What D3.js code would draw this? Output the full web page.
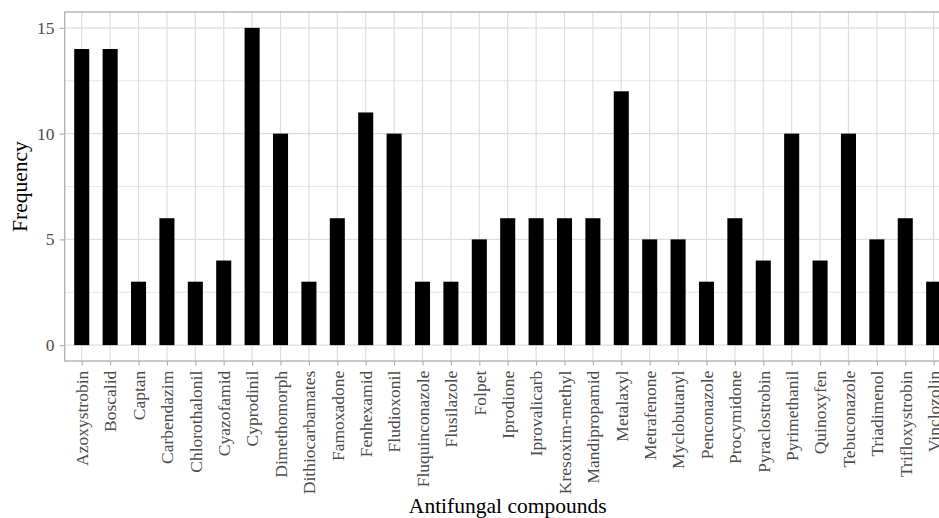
<!DOCTYPE html>
<html>
<head>
<meta charset="utf-8">
<script src="https://cdn.jsdelivr.net/npm/d3@7"></script>
<style>
  html, body { margin: 0; padding: 0; background: #ffffff; }
  svg { display: block; }
</style>
</head>
<body>
<svg id="chart" width="939" height="518"></svg>
<script>
// Antifungal compounds and how often each was detected
const compounds = [
  "Azoxystrobin", "Boscalid", "Captan", "Carbendazim", "Chlorothalonil",
  "Cyazofamid", "Cyprodinil", "Dimethomorph", "Dithiocarbamates", "Famoxadone",
  "Fenhexamid", "Fludioxonil", "Fluquinconazole", "Flusilazole", "Folpet",
  "Iprodione", "Iprovalicarb", "Kresoxim-methyl", "Mandipropamid", "Metalaxyl",
  "Metrafenone", "Myclobutanyl", "Penconazole", "Procymidone", "Pyraclostrobin",
  "Pyrimethanil", "Quinoxyfen", "Tebuconazole", "Triadimenol", "Trifloxystrobin",
  "Vinclozolin"
];
const frequency = [
  14, 14, 3, 6, 3,
  4, 15, 10, 3, 6,
  11, 10, 3, 3, 5,
  6, 6, 6, 6, 12,
  5, 5, 3, 6, 4,
  10, 4, 10, 5, 6,
  3
];
const yTicks = [0, 5, 10, 15];
const yMinorTicks = [2.5, 7.5, 12.5];
const xTitle = "Antifungal compounds";
const yTitle = "Frequency";

const data = compounds.map((c, i) => ({ name: c, value: frequency[i] }));

const panel = { left: 64.7, right: 950.7, top: 12, bottom: 361 };
const font = "'Liberation Serif', 'Times New Roman', Times, serif";

const svg = d3.select("#chart");

const x = d3.scalePoint()
  .domain(compounds)
  .range([panel.left, panel.right])
  .padding(0.6);

const yMax = d3.max(frequency);
const yPad = yMax * 0.05;
const y = d3.scaleLinear()
  .domain([-yPad, yMax + yPad])
  .range([panel.bottom, panel.top]);

const barW = x.step() * 0.53;

// panel clip so anything past the right edge is hidden by the page width
const g = svg.append("g");

// minor horizontal grid
g.selectAll("line.minor-y").data(yMinorTicks).enter().append("line")
  .attr("x1", panel.left).attr("x2", panel.right)
  .attr("y1", d => y(d)).attr("y2", d => y(d))
  .attr("stroke", "#e3e3e3").attr("stroke-width", 0.9);

// major horizontal grid
g.selectAll("line.major-y").data(yTicks).enter().append("line")
  .attr("x1", panel.left).attr("x2", panel.right)
  .attr("y1", d => y(d)).attr("y2", d => y(d))
  .attr("stroke", "#dedede").attr("stroke-width", 1.2);

// vertical grid at each category
g.selectAll("line.major-x").data(compounds).enter().append("line")
  .attr("x1", d => x(d)).attr("x2", d => x(d))
  .attr("y1", panel.top).attr("y2", panel.bottom)
  .attr("stroke", "#dedede").attr("stroke-width", 1.2);

// bars
g.selectAll("rect.bar").data(data).enter().append("rect")
  .attr("x", d => x(d.name) - barW / 2)
  .attr("width", barW)
  .attr("y", d => y(d.value))
  .attr("height", d => y(0) - y(d.value))
  .attr("fill", "#000000");

// panel border
g.append("rect")
  .attr("x", panel.left).attr("y", panel.top)
  .attr("width", panel.right - panel.left)
  .attr("height", panel.bottom - panel.top)
  .attr("fill", "none")
  .attr("stroke", "#b3b3b3").attr("stroke-width", 1.4);

// y axis
const yAxis = d3.axisLeft(y).tickValues(yTicks).tickSize(5.2).tickPadding(5);
const yAxisG = svg.append("g")
  .attr("transform", `translate(${panel.left},0)`)
  .call(yAxis);
yAxisG.select(".domain").remove();
yAxisG.selectAll(".tick line").attr("stroke", "#b3b3b3").attr("stroke-width", 1.2);
yAxisG.selectAll(".tick text")
  .attr("fill", "#4d4d4d")
  .style("font-family", font)
  .style("font-size", "17.5px");

// x axis
const xAxis = d3.axisBottom(x).tickSize(4.5).tickPadding(5);
const xAxisG = svg.append("g")
  .attr("transform", `translate(0,${panel.bottom})`)
  .call(xAxis);
xAxisG.select(".domain").remove();
xAxisG.selectAll(".tick line").attr("stroke", "#b3b3b3").attr("stroke-width", 1.2);
xAxisG.selectAll(".tick text")
  .attr("fill", "#4d4d4d")
  .style("font-family", font)
  .style("font-size", "17.5px")
  .attr("transform", "rotate(-90)")
  .attr("x", -9.7)
  .attr("y", 0)
  .attr("dy", "0.33em")
  .attr("text-anchor", "end");

// axis titles
svg.append("text")
  .attr("x", (panel.left + panel.right) / 2)
  .attr("y", 513.3)
  .attr("text-anchor", "middle")
  .attr("fill", "#000000")
  .style("font-family", font)
  .style("font-size", "21.5px")
  .text(xTitle);

svg.append("text")
  .attr("transform", `translate(27,${(panel.top + panel.bottom) / 2}) rotate(-90)`)
  .attr("text-anchor", "middle")
  .attr("fill", "#000000")
  .style("font-family", font)
  .style("font-size", "21.5px")
  .text(yTitle);
</script>
</body>
</html>
